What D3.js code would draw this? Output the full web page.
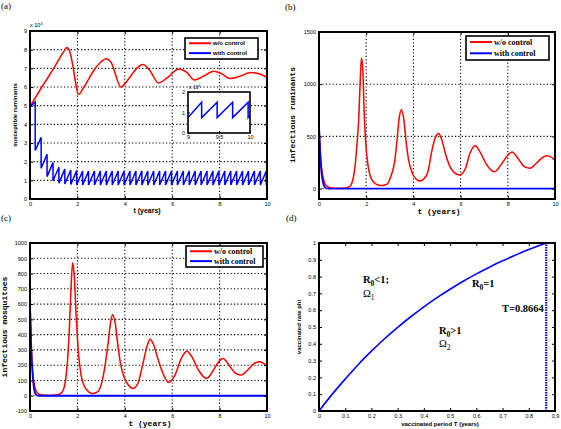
<!DOCTYPE html>
<html><head><meta charset="utf-8">
<script src="https://cdn.jsdelivr.net/npm/d3@7"></script>
<style>body{margin:0;background:#fff}svg{display:block}</style>
</head><body>
<svg id="c" width="561" height="429"></svg>
<script>
// ---------- DATA ----------
// (a) susceptible ruminants (x10^4)
const aRedT = [0,0.5,1.0,1.3,1.45,1.55,1.65,1.8,1.93,2.04,2.3,2.7,3.0,3.21,3.45,3.65,3.83,4.2,4.5,4.76,5.05,5.42,5.8,6.27,6.6,6.94,7.35,7.75,8.1,8.45,8.9,9.3,9.7,10];
const aRedV = [4.95,6.0,7.0,7.65,7.95,8.12,8.0,7.2,6.2,5.6,6.05,6.9,7.35,7.52,7.25,6.5,6.0,6.5,7.0,7.2,6.9,6.22,6.5,6.97,6.8,6.38,6.6,6.85,6.7,6.45,6.6,6.78,6.7,6.52];
const aBlueStart = 4.95;
const aDropT = [0.22,0.47,0.72,0.97,1.22,1.47,1.72,1.97,2.22,2.47,2.72,2.97,3.22,3.47,3.72,3.97,4.22,4.47,4.72,4.97,5.22,5.47,5.72,5.97,6.22,6.47,6.72,6.97,7.22,7.47,7.72,7.97,8.22,8.47,8.72,8.97,9.22,9.47,9.72,9.97];
const aPeakV = [5.2,3.3,2.4,1.95,1.7,1.6,1.55,1.52,1.5,1.5,1.5,1.5,1.5,1.5,1.5,1.5,1.5,1.5,1.5,1.5,1.5,1.5,1.5,1.5,1.5,1.5,1.5,1.5,1.5,1.5,1.5,1.5,1.5,1.5,1.5,1.5,1.5,1.5,1.5,1.5];
const aTroughV = [2.6,1.65,1.2,0.98,0.85,0.8,0.78,0.76,0.75,0.75,0.75,0.75,0.75,0.75,0.75,0.75,0.75,0.75,0.75,0.75,0.75,0.75,0.75,0.75,0.75,0.75,0.75,0.75,0.75,0.75,0.75,0.75,0.75,0.75,0.75,0.75,0.75,0.75,0.75,0.75];
const aBlueEnd = 0.84;
const aYTicks = [0,1,2,3,4,5,6,7,8,9];
const tTicks = [0,2,4,6,8,10];
const insetXTicks = [9,9.5,10];
const insetYTicks = [0,1,2];

// (b) infectious ruminants
const bRedT = [0,0.05,0.1,0.2,0.3,0.5,0.8,1.1,1.3,1.45,1.55,1.6,1.68,1.75,1.8,1.86,1.92,2.0,2.1,2.25,2.5,2.7,2.9,3.05,3.2,3.3,3.4,3.5,3.6,3.7,3.8,3.95,4.1,4.27,4.45,4.6,4.8,4.95,5.07,5.2,5.35,5.55,5.75,5.96,6.2,6.4,6.62,6.85,7.1,7.44,7.75,8.0,8.18,8.4,8.65,8.93,9.2,9.45,9.67,9.85,10];
const bRedV = [600,380,220,80,30,8,3,5,20,100,260,400,650,1050,1250,1120,700,380,190,80,35,30,45,120,250,450,680,755,650,430,270,150,95,73,95,150,380,500,528,470,340,210,150,130,190,340,410,340,230,162,240,320,350,300,220,194,240,295,315,300,268];
const bBlueT = [0,0.05,0.1,0.15,0.2,0.25,0.3,0.4,10];
const bBlueV = [600,330,170,80,35,12,3,0,0];
const bYTicks = [0,500,1000,1500];

// (c) infectious mosquitoes
const cRedT = [0,0.05,0.1,0.2,0.3,0.5,0.8,1.1,1.3,1.45,1.55,1.65,1.73,1.8,1.87,1.95,2.05,2.15,2.3,2.5,2.65,2.85,3.0,3.15,3.3,3.4,3.49,3.6,3.7,3.82,3.95,4.15,4.35,4.55,4.75,4.95,5.07,5.2,5.4,5.6,5.85,6.1,6.4,6.62,6.85,7.1,7.46,7.75,8.0,8.14,8.4,8.65,8.9,9.2,9.45,9.69,9.85,10];
const cRedV = [600,350,190,60,20,5,2,4,15,60,170,400,700,871,780,520,270,140,60,22,15,25,70,180,350,480,531,470,340,210,130,70,48,80,200,330,370,340,240,150,87,130,250,292,250,170,113,170,230,244,200,150,135,170,210,222,212,196];
const cBlueT = [0,0.05,0.1,0.15,0.2,0.25,0.3,0.4,10];
const cBlueV = [600,320,160,70,25,8,2,0,0];
const cYTicks = [-100,0,100,200,300,400,500,600,700,800,900,1000];

// (d) vaccinated rate vs period
const dT = [0,0.05,0.1,0.15,0.2,0.25,0.3,0.35,0.4,0.45,0.5,0.55,0.6,0.65,0.7,0.75,0.8,0.8664];
const dPhi = [0,0.099,0.19,0.277,0.356,0.43,0.498,0.561,0.62,0.675,0.725,0.772,0.816,0.856,0.894,0.928,0.961,1.0];
const dCritT = 0.8664;
const dXTicks = [0,0.1,0.2,0.3,0.4,0.5,0.6,0.7,0.8,0.9];
const dYTicks = [0,0.1,0.2,0.3,0.4,0.5,0.6,0.7,0.8,0.9,1];

const legendLabels = ["w/o control","with control"];
const RED = "#ff0000", BLUE = "#0000ff";
const SANS = "'Liberation Sans', Arial, sans-serif";
const SERIF = "'Liberation Serif', 'Times New Roman', serif";
const MONO = "'Liberation Mono', 'Courier New', monospace";

const svg = d3.select("#c");

function zipPts(T, V){ return T.map((t,i)=>[t,V[i]]); }

function panel(opt){
  const g = svg.append("g");
  const x = d3.scaleLinear().domain(opt.xd).range([opt.l, opt.r]);
  const y = d3.scaleLinear().domain(opt.yd).range([opt.b, opt.t]);
  const id = "clip" + opt.name;
  svg.append("clipPath").attr("id", id).append("rect")
    .attr("x", opt.l).attr("y", opt.t).attr("width", opt.r-opt.l).attr("height", opt.b-opt.t);
  // grid
  if (opt.gridX){
    g.selectAll(null).data(opt.gridX).join("line")
      .attr("x1", d=>x(d)).attr("x2", d=>x(d)).attr("y1", opt.t).attr("y2", opt.b)
      .attr("stroke","#000").attr("stroke-width",1.1).attr("stroke-dasharray","1.2,2.2");
  }
  if (opt.gridY){
    g.selectAll(null).data(opt.gridY).join("line")
      .attr("y1", d=>y(d)).attr("y2", d=>y(d)).attr("x1", opt.l).attr("x2", opt.r)
      .attr("stroke","#000").attr("stroke-width",1.1).attr("stroke-dasharray","1.2,2.2");
  }
  const data = g.append("g").attr("clip-path", `url(#${id})`);
  // axes with inward ticks
  const fs = opt.tickFont || 5.5;
  const ax = (gen, tx, ty, vals, lab) => {
    const a = g.append("g").attr("transform", `translate(${tx},${ty})`)
      .call(gen.tickValues(vals).tickSizeInner(-3).tickSizeOuter(0).tickPadding(lab?3:0).tickFormat(lab? (opt.fmt||(d=>d)) : ""));
    a.select(".domain").remove();
    a.selectAll("line").attr("stroke","#000").attr("stroke-width",1);
    a.selectAll("text").attr("font-family", SANS).attr("font-size", fs).attr("fill","#000");
    return a;
  };
  ax(d3.axisBottom(x), 0, opt.b, opt.xTicks, true);
  ax(d3.axisTop(x), 0, opt.t, opt.xTicks, false);
  ax(d3.axisLeft(y), opt.l, 0, opt.yTicks, true);
  ax(d3.axisRight(y), opt.r, 0, opt.yTicks, false);
  return {g, x, y, data, draw(){
    g.append("rect").attr("x",opt.l).attr("y",opt.t).attr("width",opt.r-opt.l).attr("height",opt.b-opt.t)
      .attr("fill","none").attr("stroke","#000").attr("stroke-width",2);
  }};
}

function legend(g, x0, y0, w, h, font, fsize, weight){
  g.append("rect").attr("x",x0).attr("y",y0).attr("width",w).attr("height",h)
    .attr("fill","#fff").attr("stroke","#000").attr("stroke-width",1.6);
  [RED, BLUE].forEach((c,i)=>{
    const yy = y0 + h*0.25 + i*h*0.47;
    g.append("line").attr("x1",x0+4).attr("x2",x0+26).attr("y1",yy).attr("y2",yy)
      .attr("stroke",c).attr("stroke-width",2);
    g.append("text").attr("x",x0+28).attr("y",yy+fsize*0.33).text(legendLabels[i])
      .attr("font-family",font).attr("font-size",fsize).attr("font-weight",weight);
  });
}

// ---------- Panel (a) ----------
{
  const p = panel({name:"a", l:30, r:267, t:31, b:199, xd:[0,10], yd:[0,9], xTicks:tTicks, yTicks:aYTicks,
    gridX:[2,4,6,8], gridY:[1,2,3,4,5,6,7,8], tickFont:5.5});
  const line = d3.line().x(d=>p.x(d[0])).y(d=>p.y(d[1]));
  p.data.append("path").datum(zipPts(aRedT,aRedV)).attr("d", line.curve(d3.curveMonotoneX))
    .attr("fill","none").attr("stroke",RED).attr("stroke-width",1.5);
  const bluePts = [[0,aBlueStart]];
  aDropT.forEach((t,i)=>{ bluePts.push([t,aPeakV[i]]); bluePts.push([t,aTroughV[i]]); });
  bluePts.push([10,aBlueEnd]);
  p.data.append("path").datum(bluePts).attr("d", d3.line().x(d=>p.x(d[0])).y(d=>p.y(d[1])))
    .attr("fill","none").attr("stroke",BLUE).attr("stroke-width",1.5);
  p.draw();
  const e = svg.append("text").attr("x",30).attr("y",27).attr("font-family",SANS).attr("font-size",5.5);
  e.append("tspan").text("x 10");
  e.append("tspan").attr("dy",-2).attr("font-size",4).text("4");
  legend(svg, 185, 38, 73, 21, SANS, 6, "bold");
  // inset
  const ix = d3.scaleLinear().domain([9,10]).range([188,250]);
  const iy = d3.scaleLinear().domain([0,2]).range([133,92]);
  svg.append("rect").attr("x",188).attr("y",92).attr("width",62).attr("height",41).attr("fill","#fff");
  const ipts = bluePts.filter(d=>d[0]>=9);
  ipts.unshift([9,0.75]);
  svg.append("clipPath").attr("id","clipI").append("rect").attr("x",188).attr("y",92).attr("width",62).attr("height",41);
  svg.append("path").datum(ipts).attr("clip-path","url(#clipI)")
    .attr("d", d3.line().x(d=>ix(d[0])).y(d=>iy(d[1])))
    .attr("fill","none").attr("stroke",BLUE).attr("stroke-width",1.5);
  const ia = svg.append("g").attr("transform","translate(0,133)")
    .call(d3.axisBottom(ix).tickValues(insetXTicks).tickSizeInner(-2).tickSizeOuter(0).tickPadding(2).tickFormat(d=>d));
  const ib = svg.append("g").attr("transform","translate(188,0)")
    .call(d3.axisLeft(iy).tickValues(insetYTicks).tickSizeInner(-2).tickSizeOuter(0).tickPadding(3).tickFormat(d=>d));
  [ia,ib].forEach(a=>{a.select(".domain").remove(); a.selectAll("text").attr("font-family",SANS).attr("font-size",5.5);});
  svg.append("rect").attr("x",188).attr("y",92).attr("width",62).attr("height",41)
    .attr("fill","none").attr("stroke","#000").attr("stroke-width",1.6);
  const ie = svg.append("text").attr("x",189).attr("y",89).attr("font-family",SANS).attr("font-size",5);
  ie.append("tspan").text("x 10");
  ie.append("tspan").attr("dy",-2).attr("font-size",3.5).text("4");
  svg.append("text").attr("x",147).attr("y",213).attr("text-anchor","middle").attr("font-family",SANS)
    .attr("font-size",7).attr("font-weight","bold").text("t (years)");
  svg.append("text").attr("transform","translate(17,115) rotate(-90)").attr("text-anchor","middle")
    .attr("font-family",SANS).attr("font-size",6).attr("font-weight","bold").text("susceptible ruminants");
}

// ---------- Panel (b) ----------
{
  const p = panel({name:"b", l:319, r:555, t:32, b:199, xd:[0,10], yd:[-100,1500], xTicks:tTicks, yTicks:bYTicks,
    gridX:[2,4,6,8], gridY:[0,500,1000], tickFont:5.5});
  const line = d3.line().x(d=>p.x(d[0])).y(d=>p.y(d[1])).curve(d3.curveMonotoneX);
  p.data.append("path").datum(zipPts(bRedT,bRedV)).attr("d", line)
    .attr("fill","none").attr("stroke",RED).attr("stroke-width",1.5);
  p.data.append("path").datum(zipPts(bBlueT,bBlueV)).attr("d", line)
    .attr("fill","none").attr("stroke",BLUE).attr("stroke-width",1.8);
  p.draw();
  legend(svg, 466, 36, 83, 24, SERIF, 8, "bold");
  svg.append("text").attr("x",439).attr("y",214).attr("text-anchor","middle").attr("font-family",MONO)
    .attr("font-size",8).attr("font-weight","bold").text("t (years)");
  svg.append("text").attr("transform","translate(295,115) rotate(-90)").attr("text-anchor","middle")
    .attr("font-family",MONO).attr("font-size",8).attr("font-weight","bold").text("infectious ruminants");
}

// ---------- Panel (c) ----------
{
  const p = panel({name:"c", l:30, r:267, t:243, b:411, xd:[0,10], yd:[-100,1000], xTicks:tTicks, yTicks:cYTicks,
    gridX:[2,4,6,8], gridY:[0,100,200,300,400,500,600,700,800,900], tickFont:5.5});
  const line = d3.line().x(d=>p.x(d[0])).y(d=>p.y(d[1])).curve(d3.curveMonotoneX);
  p.data.append("path").datum(zipPts(cRedT,cRedV)).attr("d", line)
    .attr("fill","none").attr("stroke",RED).attr("stroke-width",1.5);
  p.data.append("path").datum(zipPts(cBlueT,cBlueV)).attr("d", line)
    .attr("fill","none").attr("stroke",BLUE).attr("stroke-width",1.8);
  p.draw();
  legend(svg, 186, 246, 77, 21, SERIF, 8, "bold");
  svg.append("text").attr("x",150).attr("y",426).attr("text-anchor","middle").attr("font-family",MONO)
    .attr("font-size",8).attr("font-weight","bold").text("t (years)");
  svg.append("text").attr("transform","translate(7,327) rotate(-90)").attr("text-anchor","middle")
    .attr("font-family",MONO).attr("font-size",8).attr("font-weight","bold").text("infectious mosquitoes");
}

// ---------- Panel (d) ----------
{
  const p = panel({name:"d", l:319, r:555, t:243, b:411, xd:[0,0.9], yd:[0,1], xTicks:dXTicks, yTicks:dYTicks,
    tickFont:5.5, fmt:d=>d3.format("~g")(d)});
  p.data.append("path").datum(zipPts(dT,dPhi))
    .attr("d", d3.line().x(d=>p.x(d[0])).y(d=>p.y(d[1])).curve(d3.curveMonotoneX))
    .attr("fill","none").attr("stroke",BLUE).attr("stroke-width",1.6);
  p.data.append("line").attr("x1",p.x(dCritT)).attr("x2",p.x(dCritT)).attr("y1",p.y(0)).attr("y2",p.y(1))
    .attr("stroke",BLUE).attr("stroke-width",2.2).attr("stroke-dasharray","1.5,1");
  p.draw();
  const txt = (x, y, main, sub, rest, weight) => {
    const t = svg.append("text").attr("x",x).attr("y",y).attr("font-family",SERIF).attr("font-size",10.5)
      .attr("font-weight",weight);
    t.append("tspan").text(main);
    if (sub!==null){
      t.append("tspan").attr("dy",3).attr("font-size",7.5).text(sub);
      t.append("tspan").attr("dy",-3).text(rest);
    }
  };
  txt(363, 283, "R", "0", "<1;", "bold");
  txt(363, 297, "Ω", "1", "", "normal");
  txt(472, 287, "R", "0", "=1", "bold");
  txt(502, 312, "T=0.8664", null, null, "bold");
  txt(439, 334, "R", "0", ">1", "bold");
  txt(439, 347, "Ω", "2", "", "normal");
  svg.append("text").attr("x",440).attr("y",426).attr("text-anchor","middle").attr("font-family",SANS)
    .attr("font-size",6).attr("font-weight","bold").text("vaccinated period T (years)");
  svg.append("text").attr("transform","translate(301,327) rotate(-90)").attr("text-anchor","middle")
    .attr("font-family",SANS).attr("font-size",6).attr("font-weight","bold").text("vaccinated rate phi");
}

// panel letters
[["(a)",1,9],["(b)",285,10],["(c)",1,221],["(d)",286,221]].forEach(([s,x,y])=>{
  svg.append("text").attr("x",x).attr("y",y).attr("font-family",SERIF).attr("font-size",9).text(s);
});
</script>
</body></html>
